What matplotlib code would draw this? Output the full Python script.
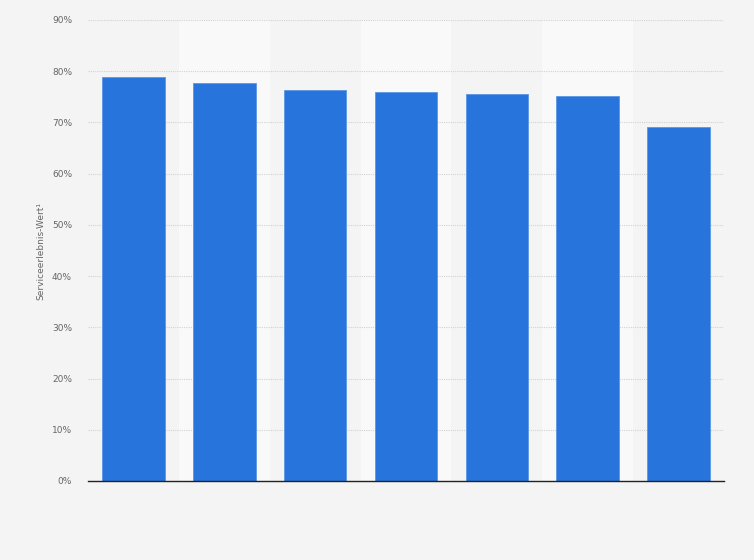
import matplotlib.pyplot as plt
import numpy as np

# values (x labels are not shown in it)
categories = ["A", "B", "C", "D", "E", "F", "G"]
values = [78.9, 77.7, 76.4, 76.0, 75.6, 75.2, 69.1]
yticks = [0, 10, 20, 30, 40, 50, 60, 70, 80, 90]

BG = "#f4f4f4"
BAND = "#f9f9f9"
BAR = "#2775dc"

fig = plt.figure(figsize=(7.54, 5.6), dpi=100, facecolor=BG)
ax = fig.add_axes([88/754, 1 - 481/560, (724 - 88)/754, (481 - 20)/560])
ax.set_facecolor(BG)

x = np.arange(len(categories))
# alternating lighter column bands
for i in x[1::2]:
    ax.axvspan(i - 0.5, i + 0.5, color=BAND, zorder=0, lw=0)

ax.bar(x, values, width=0.69, color=BAR, edgecolor="#5b96e6",
       linewidth=0.6, zorder=3)

ax.set_xlim(-0.5, len(categories) - 0.5)
ax.set_ylim(0, 90)
ax.set_yticks(yticks)
ax.set_yticklabels([f"{t}%" for t in yticks])
ax.set_xticks(x)
ax.set_xticklabels([])
ax.tick_params(axis="x", length=0)
ax.tick_params(axis="y", length=0, pad=11.5, labelsize=6.5, labelcolor="#666666")

ax.grid(axis="y", color="#d2d2d2", linestyle=(0, (1, 1)), lw=0.8, zorder=1)
for s in ["top", "right", "left"]:
    ax.spines[s].set_visible(False)
ax.spines["bottom"].set_color("#222222")
ax.spines["bottom"].set_linewidth(1.0)
ax.spines["bottom"].set_zorder(4)

ax.set_ylabel("Serviceerlebnis-Wert¹", fontsize=6.5, color="#666666", labelpad=5)

fig.savefig("out.png", dpi=100, facecolor=BG)
